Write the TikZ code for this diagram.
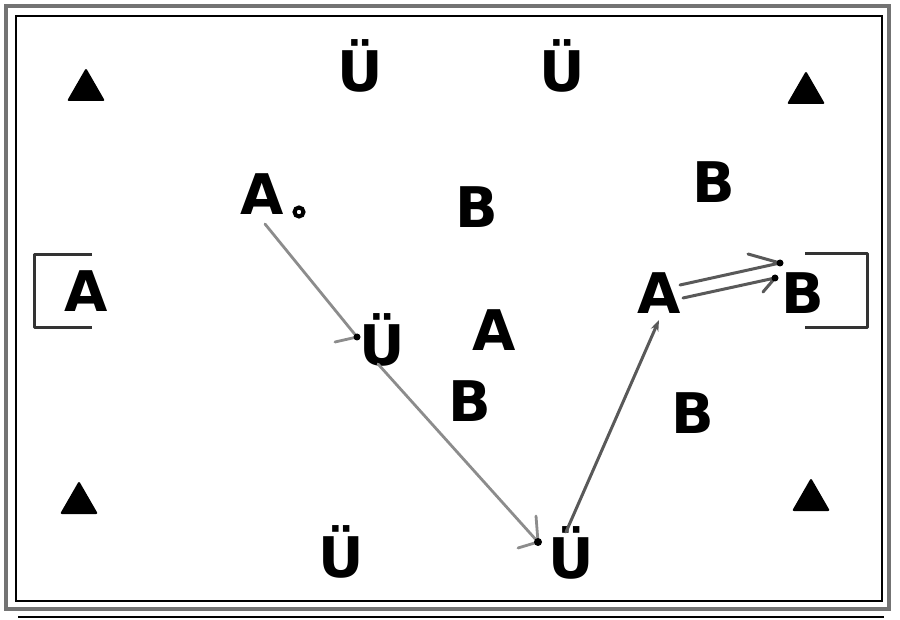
\documentclass[tikz,border=0pt]{standalone}
\usepackage{fontspec}
\setmainfont{DejaVu Sans}
\usetikzlibrary{calc,arrows.meta}
\begin{document}
\begin{tikzpicture}[x=1pt,y=-1pt,
  letter/.style={font=\bfseries\fontsize{56}{56}\selectfont, inner sep=0pt, text depth=0pt, anchor=base},
  tri/.style={fill=black, rounded corners=2pt},
  lightarrow/.style={draw=black!45, line width=2.8pt, line cap=round, line join=round},
  darkarrow/.style={draw=black!65, line width=3pt, line cap=round, line join=round},
  bracket/.style={draw=black!80, line width=3pt, line join=round},
]
\useasboundingbox (0,0) rectangle (900,620);
% frame
\draw[black!55, line width=4.5pt] (6,6) rectangle (889,609);
\draw[black, line width=2.4pt] (16,16) rectangle (882,601);
\draw[black, line width=2pt] (18,617) -- (884,617);

% triangles
\foreach \cx/\cy in {86/86, 806/89, 79/499, 811/496}{
  \fill[tri] (\cx-19,\cy+15) -- (\cx,\cy-18) -- (\cx+19,\cy+15) -- cycle;
}

% letters
\node[letter] (u1) at (360,92) {Ü};
\node[letter] (u2) at (562,92) {Ü};
\node[letter] (u3) at (341,577) {Ü};
\node[letter] (u4) at (571,578) {Ü};
\node[letter] (u5) at (382,366) {Ü};

\node[letter] (a1) at (262,215) {A};
\node[letter] (a2) at (86,312) {A};
\node[letter] (a3) at (494,351) {A};
\node[letter] (a4) at (659,314) {A};

\node[letter] (b1) at (477,228) {B};
\node[letter] (b2) at (714,203) {B};
\node[letter] (b3) at (470,421) {B};
\node[letter] (b4) at (693,433) {B};
\node[letter] (b5) at (803,314) {B};

% small circle
\node[circle, draw=black, line width=4pt, minimum size=9pt, inner sep=0pt] (dot) at (299,212) {};

% brackets
\draw[bracket] (92,255) -- (34,255) -- (34,328) -- (92,328);
\draw[bracket] (805,254) -- (867,254) -- (867,328) -- (805,328);

% arrow 1: A -> U (harpoon)
\coordinate (h1) at ($(u5.base)+(-25,-29)$);
\draw[lightarrow] ($(a1.base)+(3,9)$) -- (h1) -- ++(-22,5);
\fill[black] (h1) circle (3.5pt);

% arrow 2: U -> U
\coordinate (h2) at ($(u4.base)+(-33,-36)$);
\draw[lightarrow] ($(u5.base)+(-4,-2)$) -- (h2);
\draw[lightarrow] ($(h2)+(-2,-26)$) -- (h2) -- ++(-20,6);
\fill[black] (h2) circle (4pt);

% arrow 3: U -> A
\draw[darkarrow, -{Stealth[length=11pt,width=8pt]}] ($(u4.base)+(-5,-46)$) -- ($(a4.base)+(0,6)$);

% arrow 4: A => B (double)
\coordinate (h4a) at ($(b5.base)+(-23,-51)$);
\coordinate (h4b) at ($(b5.base)+(-28,-36)$);
\draw[darkarrow] ($(a4.base)+(21,-29)$) -- (h4a) -- ++(-32,-9);
\draw[darkarrow] ($(a4.base)+(24,-16)$) -- (h4b) -- ++(-12,14);
\fill[black] (h4a) circle (3.5pt);
\fill[black] (h4b) circle (3.5pt);
\end{tikzpicture}
\end{document}
